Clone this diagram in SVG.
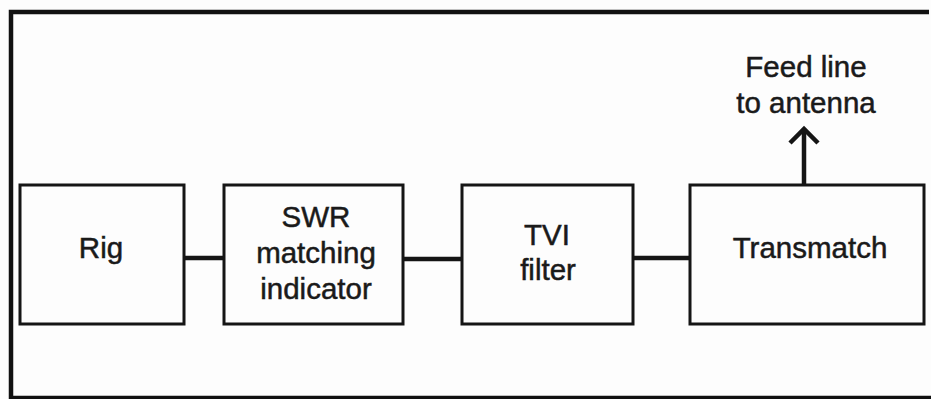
<svg xmlns="http://www.w3.org/2000/svg" width="931" height="399" viewBox="0 0 931 399">
<style>
.box{fill:none;stroke:#151515;stroke-width:3}
.wire{fill:none;stroke:#151515;stroke-width:4.5}
.frame{fill:none;stroke:#111;stroke-width:4.5}
text{font-family:"Liberation Sans",Arial,sans-serif;font-size:29.5px;fill:#1a1a1a;stroke:#1a1a1a;stroke-width:0.5;text-anchor:middle}
</style>
<rect width="931" height="399" fill="#fdfdfd"/>
<path class="frame" d="M929 12 H11 V398 H931"/>
<g id="rig"><rect class="box" x="20" y="185" width="164" height="139"/><text x="101" y="258">Rig</text></g>
<g id="swr"><rect class="box" x="224" y="185" width="179" height="139"/><text x="316" y="227">SWR</text><text x="316" y="263">matching</text><text x="316" y="299">indicator</text></g>
<g id="tvi"><rect class="box" x="462" y="185" width="171" height="139"/><text x="547" y="245">TVI</text><text x="548" y="280">filter</text></g>
<g id="transmatch"><rect class="box" x="690" y="185" width="234" height="139"/><text x="810" y="258">Transmatch</text></g>
<g id="feed"><text x="806" y="77">Feed line</text><text x="806" y="113">to antenna</text></g>
<g id="connectors">
<line class="wire" x1="184" y1="258" x2="224" y2="258"/>
<line class="wire" x1="403" y1="259" x2="462" y2="259"/>
<line class="wire" x1="633" y1="258" x2="690" y2="258"/>
<line class="wire" x1="804" y1="185" x2="804" y2="130"/>
<polyline class="wire" points="790,143 804,129 818,143" stroke-linejoin="miter"/>
</g>
</svg>
